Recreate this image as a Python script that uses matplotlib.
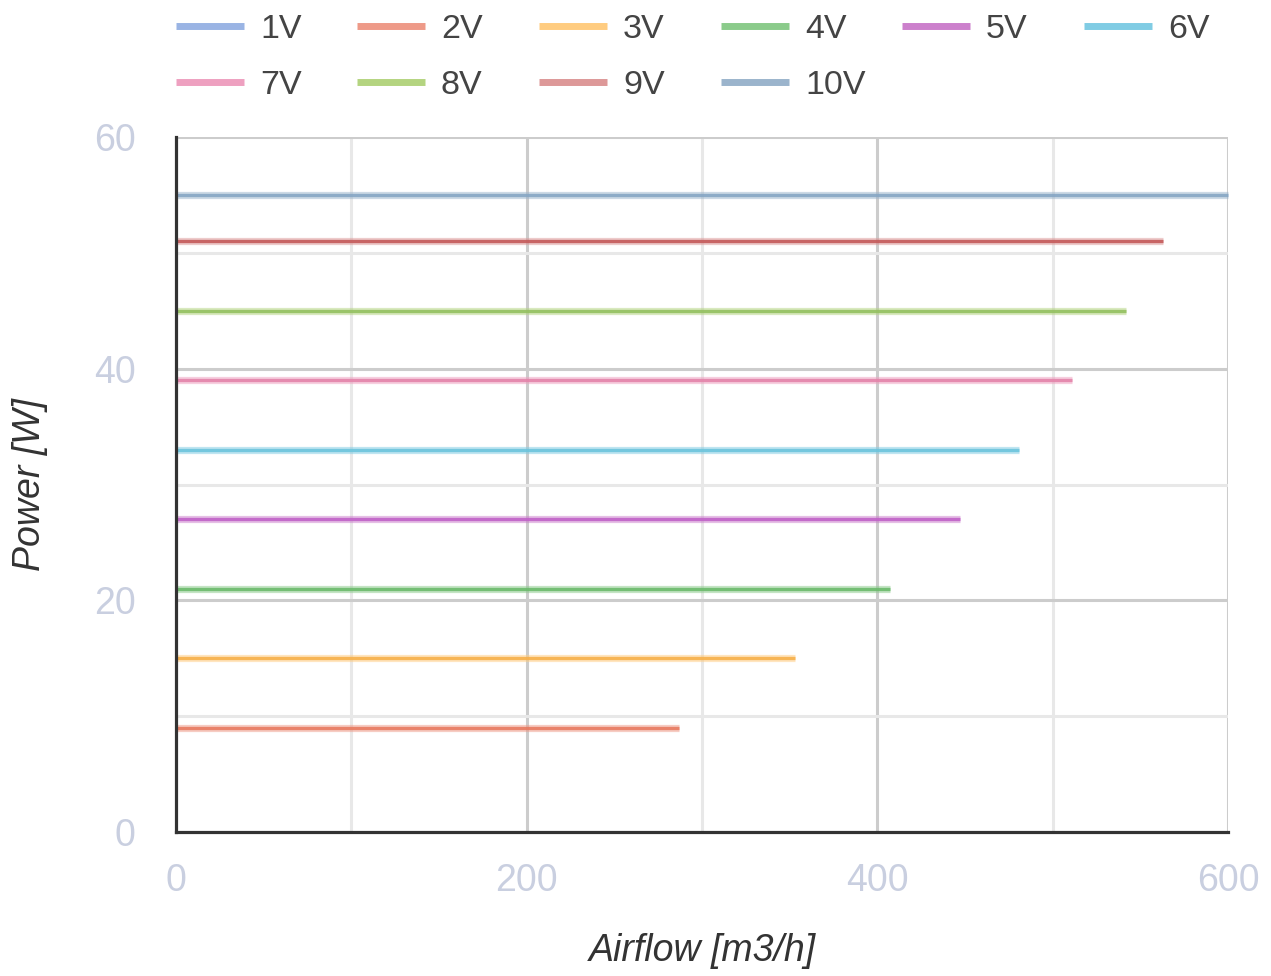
import matplotlib
matplotlib.use("Agg")
import matplotlib.pyplot as plt
from matplotlib.lines import Line2D

plt.rcParams['font.family'] = ['Liberation Sans', 'DejaVu Sans']

# ---- data ----
voltages = ["1V", "2V", "3V", "4V", "5V", "6V", "7V", "8V", "9V", "10V"]
power_w = [None, 9, 15, 21, 27, 33, 39, 45, 51, 55]
max_airflow = [None, 287, 353, 407, 447, 481, 511, 542, 563, 600]
legend_colors = ["#9ab4e4", "#ee9a88", "#ffcc80", "#8bcb8b", "#cc80cc",
                 "#80cce4", "#eea0c0", "#b4d480", "#dd9898", "#9bb4cc"]
line_colors = ["#7f9fdc", "#e87a60", "#f7b04a", "#6cba6c", "#c062c8",
               "#6cc4dc", "#e484aa", "#94c060", "#c45a5a", "#86a6c4"]
x_ticks = [0, 200, 400, 600]
y_ticks = [0, 20, 40, 60]

W, H, DPI = 1271, 976, 100
fig = plt.figure(figsize=(W / DPI, H / DPI), dpi=DPI)
ax = fig.add_axes([176 / W, 1 - 832 / H, (1228 - 176) / W, (832 - 137) / H])

ax.set_xlim(0, 600)
ax.set_ylim(0, 60)

# grid
for xv in [100, 300, 500]:
    ax.axvline(xv, color="#e8e8e8", lw=2.2, zorder=0)
for xv in [200, 400, 600]:
    ax.axvline(xv, color="#cccccc", lw=2.2, zorder=0)
for yv in [10, 30, 50]:
    ax.axhline(yv, color="#e8e8e8", lw=2.2, zorder=0)
for yv in [20, 40, 60]:
    ax.axhline(yv, color="#cccccc", lw=2.2, zorder=0)

# data lines
for v, p, xm, lc, dc in zip(voltages, power_w, max_airflow, legend_colors, line_colors):
    if p is None:
        continue
    ax.plot([0, xm], [p, p], color=lc, lw=5.2, alpha=0.5, solid_capstyle="butt",
            zorder=3, clip_on=False)
    ax.plot([0, xm], [p, p], color=dc, lw=2.4, alpha=0.9, solid_capstyle="butt",
            zorder=4, clip_on=False)

for s in ["top", "right"]:
    ax.spines[s].set_visible(False)
for s in ["left", "bottom"]:
    ax.spines[s].set_color("#333333")
    ax.spines[s].set_linewidth(2.3)
    ax.spines[s].set_zorder(5)

ax.set_xticks(x_ticks)
ax.set_yticks(y_ticks)
ax.tick_params(length=0, labelsize=27, labelcolor="#c9cfe0")
ax.tick_params(axis="y", pad=29)
ax.tick_params(axis="x", pad=22)

ax.set_xlabel("Airflow [m3/h]", fontsize=27, style="italic", color="#333333")
ax.set_ylabel("Power [W]", fontsize=27, style="italic", color="#333333")
ax.xaxis.set_label_coords(0.5, -0.145)
ax.yaxis.set_label_coords(-0.122, 0.5)

# legend (manual, fixed column width)
col_x = [176, 357, 539, 721, 902, 1084]
row_y = [26, 82]
for i, (v, c) in enumerate(zip(voltages, legend_colors)):
    r, k = divmod(i, 6)
    x0 = col_x[k]
    y0 = row_y[r]
    fig.add_artist(Line2D([x0 / W, (x0 + 68) / W], [1 - y0 / H, 1 - y0 / H],
                          color=c, lw=5, solid_capstyle="butt", transform=fig.transFigure))
    fig.text((x0 + 84) / W, 1 - y0 / H, v, fontsize=24.5, color="#444444",
             ha="left", va="center_baseline")

fig.savefig("out.png", dpi=DPI)
